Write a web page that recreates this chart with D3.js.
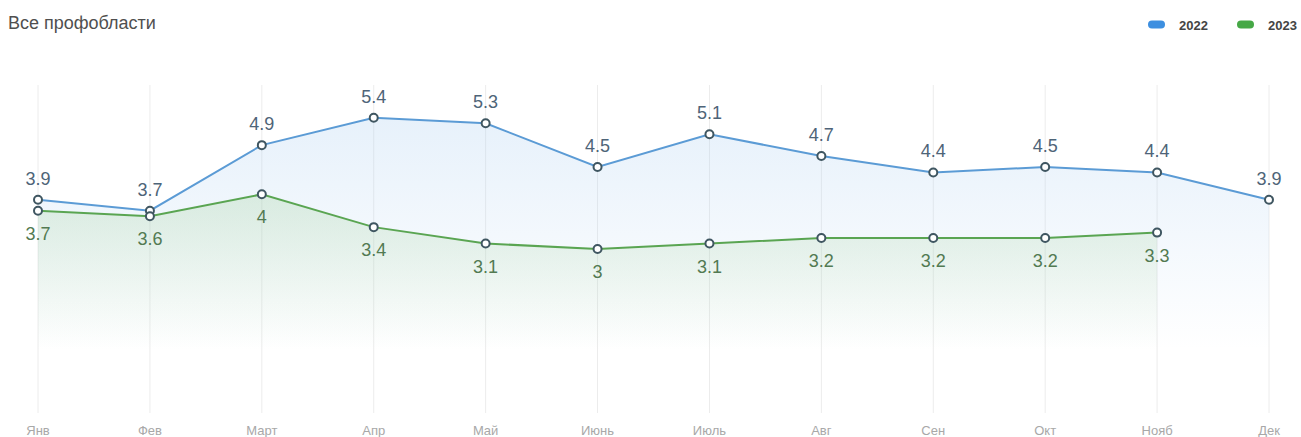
<!DOCTYPE html>
<html>
<head>
<meta charset="utf-8">
<script src="https://cdn.jsdelivr.net/npm/d3@7"></script>
<style>
  body { margin: 0; background: #fff; font-family: "Liberation Sans", Arial, sans-serif; }
  .month-label { fill: #a8a8a8; font-size: 13px; }
  .val-label { font-size: 18px; }
</style>
</head>
<body>
<div id="chart"></div>
<script>
const months = ["Янв", "Фев", "Март", "Апр", "Май", "Июнь", "Июль", "Авг", "Сен", "Окт", "Нояб", "Дек"];
const values2022 = [3.9, 3.7, 4.9, 5.4, 5.3, 4.5, 5.1, 4.7, 4.4, 4.5, 4.4, 3.9];
const values2023 = [3.7, 3.6, 4, 3.4, 3.1, 3, 3.1, 3.2, 3.2, 3.2, 3.3];
const seriesNames = ["2022", "2023"];

const cfg = { width: 1301, height: 437, left: 38, right: 1269, top: 85, bottom: 413 };
const colors = {
    "2022": { line: "#5b9bd5", label: "#4e6478", legend: "#3d8fe0", fill: "#a9cdf0" },
    "2023": { line: "#5aa552", label: "#527a52", legend: "#46a846", fill: "#9fcf98" }
};

const svg = d3.select("#chart").append("svg")
    .attr("width", cfg.width).attr("height", cfg.height);

const x = d3.scalePoint().domain(months).range([cfg.left, cfg.right]);
const y = d3.scaleLinear().domain([0, 6]).range([cfg.bottom, cfg.top]);

// gradients
const defs = svg.append("defs");
seriesNames.forEach(name => {
    const g = defs.append("linearGradient").attr("id", "grad" + name)
        .attr("gradientUnits", "userSpaceOnUse")
        .attr("x1", 0).attr("x2", 0).attr("y1", name === "2022" ? y(5.4) : y(4)).attr("y2", 350);
    g.append("stop").attr("offset", "0%").attr("stop-color", colors[name].fill).attr("stop-opacity", 0.28);
    g.append("stop").attr("offset", "100%").attr("stop-color", colors[name].fill).attr("stop-opacity", 0);
});

// grid lines
svg.append("g").selectAll("line").data(months).enter().append("line")
    .attr("x1", d => x(d)).attr("x2", d => x(d))
    .attr("y1", cfg.top).attr("y2", cfg.bottom)
    .attr("stroke", "#ececec").attr("stroke-width", 1);

// x axis labels
svg.append("g").selectAll("text").data(months).enter().append("text")
    .attr("class", "month-label")
    .attr("x", d => x(d)).attr("y", 435)
    .attr("text-anchor", "middle")
    .text(d => d);

const series = [
    { name: "2022", values: values2022, labelDy: -15 },
    { name: "2023", values: values2023, labelDy: 29 }
];

const area = d3.area().x((d, i) => x(months[i])).y0(y(0)).y1(d => y(d));
const line = d3.line().x((d, i) => x(months[i])).y(d => y(d));

series.forEach(s => {
    svg.append("path").datum(s.values)
        .attr("d", area)
        .attr("fill", "url(#grad" + s.name + ")");
});

series.forEach(s => {
    svg.append("path").datum(s.values)
        .attr("d", line)
        .attr("fill", "none")
        .attr("stroke", colors[s.name].line)
        .attr("stroke-width", 2);
});

series.forEach(s => {
    const g = svg.append("g");
    g.selectAll("circle").data(s.values).enter().append("circle")
        .attr("cx", (d, i) => x(months[i])).attr("cy", d => y(d))
        .attr("r", 4)
        .attr("fill", "#fff")
        .attr("stroke", "#3f5661")
        .attr("stroke-width", 2);
    g.selectAll("text").data(s.values).enter().append("text")
        .attr("class", "val-label")
        .attr("x", (d, i) => x(months[i])).attr("y", d => y(d) + s.labelDy)
        .attr("text-anchor", "middle")
        .attr("fill", colors[s.name].label)
        .text(d => d);
});

// title
svg.append("text")
    .attr("x", 8).attr("y", 29)
    .attr("fill", "#4f4f4f").attr("font-size", "18px")
    .text("Все профобласти");

// legend
const legend = svg.append("g").selectAll("g").data(seriesNames).enter().append("g")
    .attr("transform", (d, i) => `translate(${1148 + i * 89}, 0)`);
legend.append("rect")
    .attr("x", 0).attr("y", 20.5).attr("width", 17).attr("height", 8).attr("rx", 4)
    .attr("fill", d => colors[d].legend);
legend.append("text")
    .attr("x", 31).attr("y", 29.5)
    .attr("fill", "#444").attr("font-size", "13px").attr("font-weight", "bold")
    .text(d => d);
</script>
</body>
</html>
